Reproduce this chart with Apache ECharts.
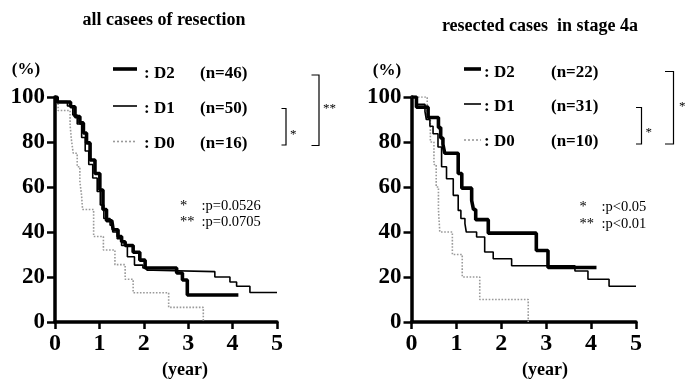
<!DOCTYPE html>
<html><head><meta charset="utf-8">
<script src="https://cdn.jsdelivr.net/npm/echarts@6/dist/echarts.min.js"></script>
<style>html,body{margin:0;padding:0;background:#fff}#c{width:685px;height:379px}</style>
</head><body><div id="c"></div>
<script>
// ---- data ----
const titles = ['all casees of resection', 'resected cases  in stage 4a'];
const groups = ['D2', 'D1', 'D0'];
const nLeft = [46, 50, 16];
const nRight = [22, 31, 10];
const pLeft = [':p=0.0526', ':p=0.0705'];
const pRight = [':p<0.05', ':p<0.01'];

// left panel: all cases of resection
const lD2t = [0, 0.05, 0.35, 0.45, 0.56, 0.64, 0.71, 0.79, 0.9, 1.01, 1.08, 1.16, 1.28, 1.31, 1.42, 1.5, 1.58, 1.76, 1.91, 2.03, 2.74, 2.87, 2.98, 4.13];
const lD2s = [100, 97.8, 95.7, 91.3, 88.5, 84, 79.6, 72, 66, 58.7, 50, 45, 44.5, 41, 38, 35.7, 34, 31, 27.5, 24, 21.8, 18.7, 12, 12];
const lD1t = [0, 0.03, 0.28, 0.4, 0.5, 0.6, 0.68, 0.76, 0.85, 0.95, 1.02, 1.1, 1.24, 1.3, 1.4, 1.5, 1.63, 1.79, 1.98, 2.07, 2.21, 3.6, 3.94, 4.09, 4.39, 5.0];
const lD1s = [100, 98, 96, 92, 88, 82, 76, 70, 64, 58, 52, 46, 43, 40, 37, 34, 29, 25.3, 24, 23, 22.4, 20, 17.8, 15.9, 13.1, 13.1];
const lD0t = [0, 0.07, 0.34, 0.37, 0.41, 0.5, 0.56, 0.6, 0.62, 0.87, 1.09, 1.35, 1.58, 1.76, 2.56, 3.34];
const lD0s = [100, 94, 87.5, 81, 75, 69, 62.5, 56, 50, 38, 32, 25.5, 19, 13, 6.5, 0];

// right panel: resected cases in stage 4a
const rD2t = [0, 0.11, 0.37, 0.6, 0.65, 0.7, 0.74, 1.04, 1.12, 1.34, 1.38, 1.43, 1.71, 2.78, 3.04, 4.12];
const rD2s = [100, 95.5, 90.9, 86.4, 81.8, 79, 75, 66, 59.5, 54, 50, 45.5, 39.5, 31.8, 24.2, 24.2];
const rD1t = [0, 0.12, 0.3, 0.33, 0.41, 0.48, 0.59, 0.67, 0.78, 0.93, 1.04, 1.1, 1.19, 1.22, 1.45, 1.63, 1.82, 2.23, 3.64, 3.93, 4.4, 5.0];
const rD1s = [100, 96.8, 93.5, 90, 87, 83.7, 77.8, 69, 63.7, 56.3, 49.6, 46, 43.7, 40, 37.8, 31.1, 28.1, 25, 22.7, 19, 15.9, 15.9];
const rD0t = [0, 0.35, 0.42, 0.5, 0.55, 0.6, 0.63, 0.91, 1.13, 1.52, 2.6];
const rD0s = [100, 90, 80, 70, 60, 50, 40, 30, 20, 10, 0];

// ---- chart ----
const FONT = "'Liberation Serif','Times New Roman',serif";
const pairs = (t, s) => t.map((x, i) => [x, s[i]]);
const styles = [
  { color: '#000', width: 3.6, type: 'solid' },
  { color: '#000', width: 1.6, type: 'solid' },
  { color: '#9a9a9a', width: 1.6, type: 'dotted' }
];

function xAx(gi) {
  return {
    type: 'value', gridIndex: gi, min: 0, max: 5, interval: 1,
    axisLine: { lineStyle: { color: '#000', width: 3.5 } },
    axisTick: { show: true, length: 7, lineStyle: { color: '#000', width: 2.5 } },
    axisLabel: { color: '#000', fontFamily: FONT, fontWeight: 'bold', fontSize: 24, margin: 10 },
    splitLine: { show: false }
  };
}
function yAx(gi) {
  return {
    type: 'value', gridIndex: gi, min: 0, max: 100, interval: 20,
    axisLine: { show: true, lineStyle: { color: '#000', width: 3.5 } },
    axisTick: { show: true, length: 8, lineStyle: { color: '#000', width: 2.5 } },
    axisLabel: { color: '#000', fontFamily: FONT, fontWeight: 'bold', fontSize: 23, margin: 10 },
    splitLine: { show: false }
  };
}
function ser(gi, t, s, k) {
  return {
    type: 'line', xAxisIndex: gi, yAxisIndex: gi, step: 'end', symbol: 'none',
    data: pairs(t, s), z: 3 - k, animation: false,
    lineStyle: { color: styles[k].color, width: styles[k].width, type: styles[k].type }
  };
}

function txt(x, y, s, size, weight, align) {
  return { type: 'text', x: x, y: y, silent: true,
    style: { text: s, fill: '#000', font: (weight || 'normal') + ' ' + size + 'px ' + FONT,
      textAlign: align || 'left', textVerticalAlign: 'middle', align: align || 'left', verticalAlign: 'middle' } };
}
function ln(x1, y1, x2, y2, k) {
  return { type: 'line', silent: true, shape: { x1, y1, x2, y2 },
    style: { stroke: styles[k].color, lineWidth: styles[k].width, lineDash: styles[k].type === 'dotted' ? [2, 2] : null } };
}
function bracket(x1, x2, y1, y2) {
  return { type: 'polyline', silent: true, shape: { points: [[x1, y1], [x2, y1], [x2, y2], [x1, y2]] },
    style: { stroke: '#000', fill: null, lineWidth: 1.2 } };
}

const graphic = [];
// titles
graphic.push(txt(164, 20.5, titles[0], 18, 'bold', 'center'));
graphic.push(txt(540, 26.5, titles[1], 18, 'bold', 'center'));
// (%) and (year)
graphic.push(txt(26, 70, '(%)', 17, 'bold', 'center'));
graphic.push(txt(387, 71, '(%)', 17, 'bold', 'center'));
graphic.push(txt(185, 370, '(year)', 18, 'bold', 'center'));
graphic.push(txt(545, 370, '(year)', 18, 'bold', 'center'));
// legends
const lLineY = [69, 106, 141.5], lTextY = [73.5, 108.5, 143.5];
const rLineY = [69, 104, 140], rTextY = [73, 106.5, 141.5];
for (let k = 0; k < 3; k++) {
  graphic.push(ln(113, lLineY[k], 137, lLineY[k], k));
  graphic.push(txt(144, lTextY[k], ': ' + groups[k], 17, 'bold'));
  graphic.push(txt(200, lTextY[k], '(n=' + nLeft[k] + ')', 17, 'bold'));
  graphic.push(ln(464, rLineY[k], 481, rLineY[k], k));
  graphic.push(txt(484, rTextY[k], ': ' + groups[k], 17, 'bold'));
  graphic.push(txt(551, rTextY[k], '(n=' + nRight[k] + ')', 17, 'bold'));
}
// significance brackets
graphic.push(bracket(281.5, 286, 108.5, 145));
graphic.push(txt(290, 135, '*', 13));
graphic.push(bracket(311.5, 319, 75, 145.5));
graphic.push(txt(323, 108.5, '**', 13));
graphic.push(bracket(636, 641.5, 107.5, 144));
graphic.push(txt(645.5, 132.5, '*', 13));
graphic.push(bracket(665, 673.5, 71.5, 144));
graphic.push(txt(679, 107, '*', 13));
// p-values
graphic.push(txt(180, 206, '*', 14.5));
graphic.push(txt(201.5, 206, pLeft[0], 14.5));
graphic.push(txt(180, 222, '**', 14.5));
graphic.push(txt(201.5, 222, pLeft[1], 14.5));
graphic.push(txt(579.5, 207.5, '*', 14.5));
graphic.push(txt(601.5, 207.5, pRight[0], 14.5));
graphic.push(txt(579.5, 224, '**', 14.5));
graphic.push(txt(601.5, 224, pRight[1], 14.5));

const chart = echarts.init(document.getElementById('c'), null, { renderer: 'canvas' });
chart.setOption({
  animation: false,
  backgroundColor: '#fff',
  grid: [
    { left: 55, top: 97, width: 222, height: 225 },
    { left: 411.5, top: 97, width: 224.5, height: 225 }
  ],
  xAxis: [xAx(0), xAx(1)],
  yAxis: [yAx(0), yAx(1)],
  series: [
    ser(0, lD0t, lD0s, 2), ser(0, lD1t, lD1s, 1), ser(0, lD2t, lD2s, 0),
    ser(1, rD0t, rD0s, 2), ser(1, rD1t, rD1s, 1), ser(1, rD2t, rD2s, 0)
  ],
  graphic: graphic
});
</script></body></html>
